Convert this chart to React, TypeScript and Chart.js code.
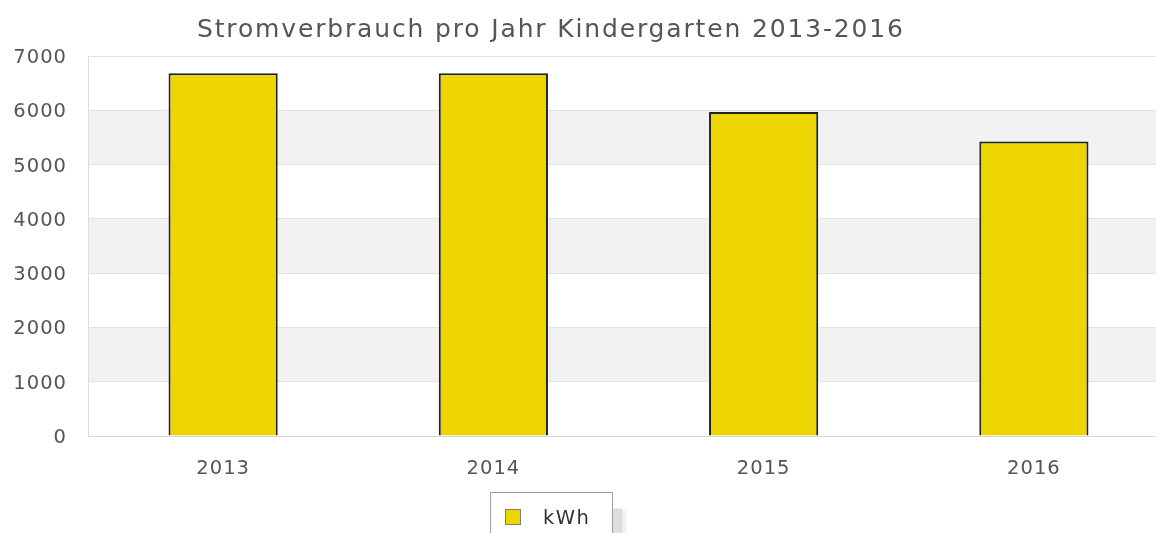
import React, { useEffect, useRef } from "react";
import { Chart, registerables } from "chart.js";

Chart.register(...registerables);

const TITLE = "Stromverbrauch pro Jahr Kindergarten 2013-2016";
const YEARS = ["2013", "2014", "2015", "2016"];
const KWH = [6680, 6680, 5970, 5425];
const SERIES_LABEL = "kWh";
const Y_MAX = 7000;
const Y_STEP = 1000;

const FONT = "'DejaVu Sans', sans-serif";
const BAR_COLOR = "#ecd500";

const bandsPlugin = {
  id: "bands",
  beforeDraw(chart: any) {
    const { ctx, chartArea, scales } = chart;
    const y = scales.y;
    ctx.save();
    ctx.fillStyle = "#f2f2f2";
    for (let v = Y_STEP; v < Y_MAX; v += 2 * Y_STEP) {
      const top = y.getPixelForValue(v + Y_STEP);
      const bot = y.getPixelForValue(v);
      ctx.fillRect(chartArea.left, top, chartArea.right - chartArea.left, bot - top);
    }
    ctx.restore();
    (ctx as any).letterSpacing = "1px";
  },
};

const titleLegendPlugin = {
  id: "titleLegend",
  afterDraw(chart: any) {
    const { ctx } = chart;
    ctx.save();
    // title
    ctx.font = `25px ${FONT}`;
    (ctx as any).letterSpacing = "0px";
    const w = ctx.measureText(TITLE).width;
    const target = 706;
    const ls = (target - w) / (TITLE.length - 1);
    (ctx as any).letterSpacing = `${ls}px`;
    ctx.fillStyle = "#555555";
    ctx.textAlign = "left";
    ctx.textBaseline = "alphabetic";
    ctx.fillText(TITLE, 197, 37);

    // legend
    const bx = 490.5, by = 492.5, bw = 122, bh = 50;
    ctx.fillStyle = "rgba(0,0,0,0.13)";
    ctx.fillRect(bx + bw, by + 16, 10, bh);
    ctx.fillStyle = "rgba(0,0,0,0.06)";
    ctx.fillRect(bx + bw + 10, by + 18, 4, bh);
    ctx.fillStyle = "#ffffff";
    ctx.fillRect(bx, by, bw, bh);
    ctx.strokeStyle = "#a0a0a0";
    ctx.lineWidth = 1;
    ctx.strokeRect(bx, by, bw, bh);
    const ds = chart.data.datasets[0];
    ctx.fillStyle = ds.backgroundColor;
    ctx.fillRect(505.5, 509.5, 15, 15);
    ctx.strokeStyle = "#808080";
    ctx.strokeRect(505.5, 509.5, 15, 15);
    (ctx as any).letterSpacing = "1.5px";
    ctx.font = `19.5px ${FONT}`;
    ctx.fillStyle = "#333333";
    ctx.textBaseline = "alphabetic";
    ctx.fillText(ds.label, 543, 524);
    ctx.restore();
  },
};

export default function App() {
  const ref = useRef<HTMLCanvasElement>(null);
  useEffect(() => {
    if (!ref.current) return;
    const chart = new Chart(ref.current, {
      type: "bar",
      data: {
        labels: YEARS,
        datasets: [
          {
            label: SERIES_LABEL,
            data: KWH,
            backgroundColor: BAR_COLOR,
            borderColor: "#222222",
            borderWidth: 2,
            categoryPercentage: 1,
            barPercentage: 0.404,
          },
        ],
      },
      options: {
        animation: false,
        responsive: false,
        devicePixelRatio: 1,
        layout: { padding: { top: 56, left: 0, right: 0, bottom: 0 } },
        plugins: {
          legend: { display: false },
          title: { display: false },
          tooltip: { enabled: false },
        },
        scales: {
          x: {
            grid: { display: false, drawTicks: false },
            border: { display: true, color: "#d8d8d8", width: 1 },
            ticks: {
              color: "#555555",
              font: { family: FONT, size: 19.5 },
              padding: 21,
            },
            afterFit(scale: any) {
              scale.height = 533 - 436;
            },
          },
          y: {
            min: 0,
            max: Y_MAX,
            grid: { color: "#e4e4e4", drawTicks: false, lineWidth: 1 },
            border: { display: true, color: "#dcdcdc", width: 1 },
            ticks: {
              stepSize: Y_STEP,
              color: "#555555",
              font: { family: FONT, size: 19.5 },
              padding: 21,
              labelOffset: 2,
              callback: (v: any) => String(v),
            },
            afterFit(scale: any) {
              scale.width = 88;
            },
          },
        },
      },
      plugins: [bandsPlugin, titleLegendPlugin],
    });
    return () => chart.destroy();
  }, []);
  return (
    <div
      style={{
        position: "absolute",
        left: 0,
        top: 0,
        width: 1156,
        height: 533,
        overflow: "hidden",
        background: "#ffffff",
      }}
    >
      <canvas ref={ref} width={1169} height={533} style={{ display: "block" }} />
    </div>
  );
}
